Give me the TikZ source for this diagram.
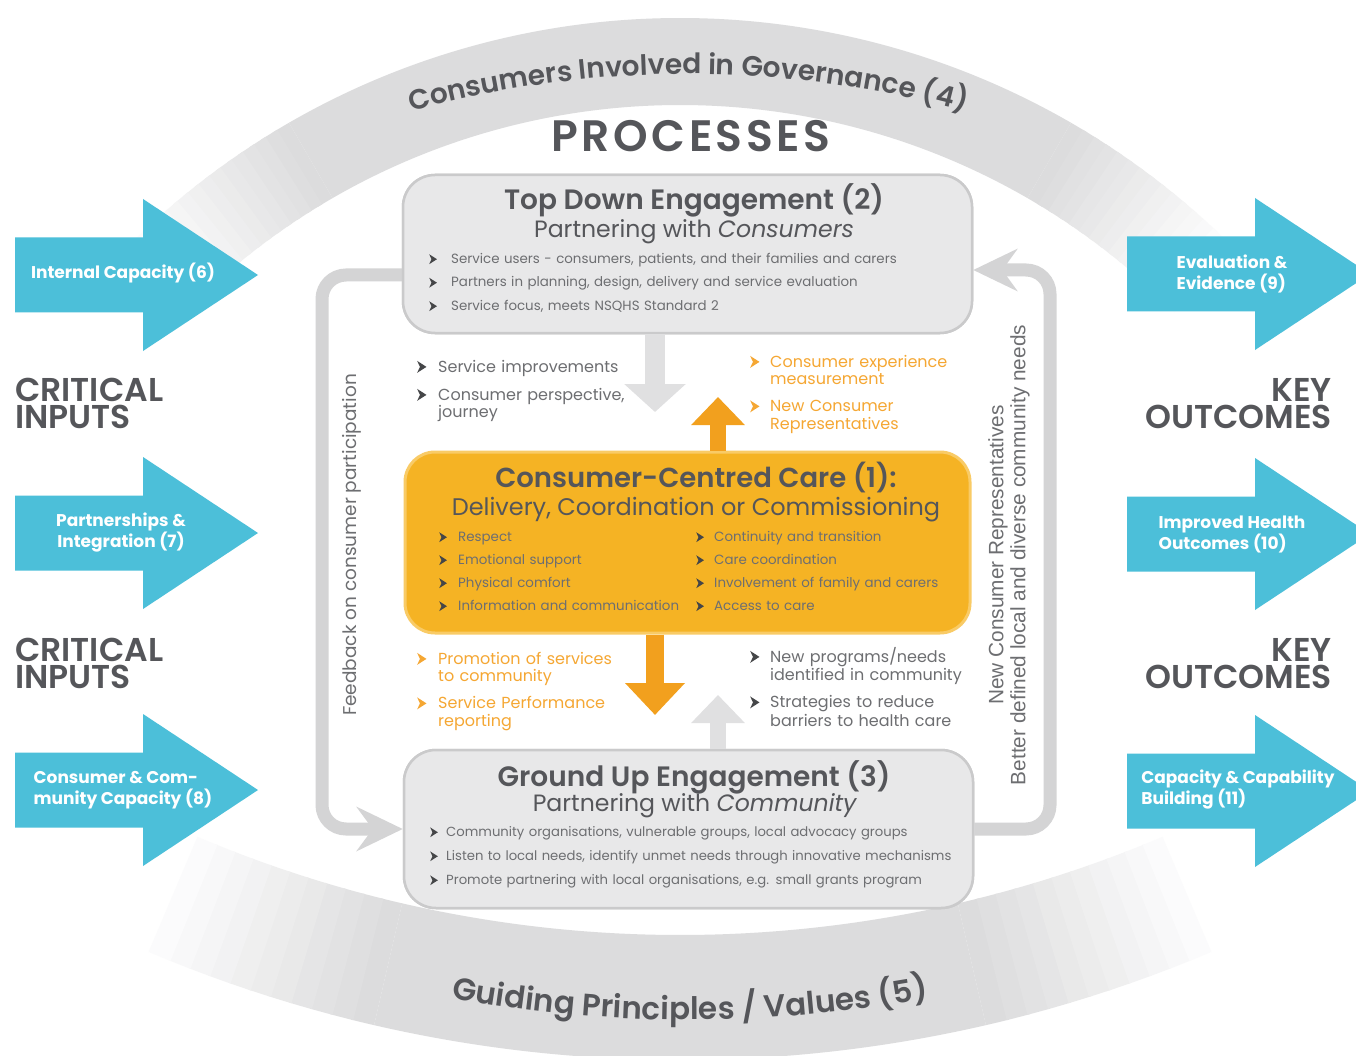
\documentclass[tikz,border=0pt]{standalone}
\usepackage{fontspec}
\setmainfont{Poppins}
\newfontfamily\semib{Poppins SemiBold}
\newfontfamily\lsans{Liberation Sans}
\usetikzlibrary{arrows.meta,decorations.text,calc}

\definecolor{tdark}{HTML}{55565A}
\definecolor{tgray}{HTML}{6D6E71}
\definecolor{tbul}{HTML}{454648}
\definecolor{torg}{HTML}{F5A733}
\definecolor{orgbox}{HTML}{F5B324}
\definecolor{orgedge}{HTML}{F9CB66}
\definecolor{orgarr}{HTML}{F2A01E}
\definecolor{boxfill}{HTML}{E8E8E9}
\definecolor{boxedge}{HTML}{CACACB}
\definecolor{loopc}{HTML}{D4D4D5}
\definecolor{cyanarr}{HTML}{4CBFD9}
\definecolor{band}{HTML}{DCDCDD}
\definecolor{garr}{HTML}{E0E0E1}

% small notched arrowhead used as list bullet
\newcommand\bu[1][tbul]{\tikz[baseline=0pt]\fill[#1] (0em,-0.05em) -- (0.58em,0.32em) -- (0em,0.69em) -- (0.17em,0.32em) -- cycle;}
\newcommand\bi[2][tbul]{\makebox[#2][l]{\bu[#1]}}
% ring sector: start angle, end angle, outer radius, inner radius, fill
\newcommand\sector[5]{\fill[#5] (#1:#3) arc[start angle=#1,end angle=#2,radius=#3] -- (#2:#4) arc[start angle=#2,end angle=#1,radius=#4] -- cycle;}

\tikzset{
  pics/cyarrow/.style={code={\fill[cyanarr] (0,37.5) -- (128,37.5) -- (128,76) -- (243,0) -- (128,-76) -- (128,-37.5) -- (0,-37.5) -- cycle;}},
  cytext/.style={text=white, font=\fontsize{17}{21}\selectfont\bfseries, inner sep=0pt},
  side/.style={font=\fontsize{33}{27.5}\selectfont\semib, text=tdark, inner sep=0pt, text width=220pt},
  gbox/.style={draw=boxedge, line width=2.5pt, fill=boxfill, rounded corners=32pt, minimum width=569pt, minimum height=158pt, inner sep=0pt},
  obox/.style={draw=orgedge, line width=3pt, fill=orgbox, rounded corners=30pt, minimum width=565pt, minimum height=181pt, inner sep=0pt},
  ttl/.style={font=\fontsize{28}{30}\selectfont\semib, text=tdark, anchor=base, inner sep=0pt},
  sub/.style={font=\fontsize{23.6}{26}\selectfont, text=tdark, anchor=base, inner sep=0pt},
  bl/.style={font=\fontsize{13.4}{23.5}\selectfont, text=tgray, anchor=base west, inner sep=0pt, align=left, text width=560pt},
  mid/.style={font=\fontsize{16}{17.5}\selectfont, anchor=base west, inner sep=0pt, align=left, text width=260pt},
  loopln/.style={draw=loopc, line width=13pt, rounded corners=24pt},
}

\begin{document}
\begin{tikzpicture}[x=1pt,y=1pt]
\useasboundingbox (0,0) rectangle (1356,-1056);
\fill[white] (0,0) rectangle (1356,-1056);

% upper band: governance
\begin{scope}[shift={(680,-800)}]
  \sector{60}{120}{782}{695}{band}
  \foreach \k in {0,...,14}{
    \pgfmathsetmacro\aa{120+\k}\pgfmathsetmacro\bb{121.4+\k}\pgfmathtruncatemacro\pp{100-\k*7}
    \sector{\aa}{\bb}{782}{695}{band!\pp!white}
    \pgfmathsetmacro\aa{60-\k}\pgfmathsetmacro\bb{58.6-\k}
    \sector{\aa}{\bb}{782}{695}{band!\pp!white}
  }
\end{scope}
% lower band: principles
\begin{scope}[shift={(680,300)}]
  \sector{257}{283}{1360}{1235}{band}
  \foreach \k in {0,...,10}{
    \pgfmathsetmacro\aa{257-0.9*\k}\pgfmathsetmacro\bb{256-0.9*\k}\pgfmathtruncatemacro\pp{100-\k*9}
    \sector{\aa}{\bb}{1360}{1235}{band!\pp!white}
    \pgfmathsetmacro\aa{283+0.9*\k}\pgfmathsetmacro\bb{284+0.9*\k}
    \sector{\aa}{\bb}{1360}{1235}{band!\pp!white}
  }
\end{scope}

\path[decorate, decoration={text along path, text align=center, text color=tdark,
  text={|\fontsize{28}{28}\selectfont\semib|Consumers Involved in Governance (4)}}]
  ([shift={(688,-1120)}]112:1046) arc[start angle=112,end angle=68,radius=1046];
\path[decorate, decoration={text along path, text align=center, text color=tdark,
  text={|\fontsize{31}{31}\selectfont\semib|Guiding Principles / Values (5)}}]
  ([shift={(690,300)}]255:1320) arc[start angle=255,end angle=285,radius=1320];

\node[font=\fontsize{44}{44}\selectfont\semib\addfontfeature{LetterSpace=8}, text=tdark, anchor=base, inner sep=0pt] (proc) at (691,-152) {PROCESSES};

% inputs and outcomes
\pic at (15,-275) {cyarrow};
\pic at (15,-533) {cyarrow};
\pic at (15,-790) {cyarrow};
\pic at (1127,-274) {cyarrow};
\pic at (1127,-534) {cyarrow};
\pic at (1127,-791) {cyarrow};
\node[cytext] (in6) at (123,-273) {Internal Capacity (6)};
\node[cytext, align=center] (in7) at (121,-533) {Partnerships \&\\Integration (7)};
\node[cytext, align=left] (in8) at (123,-790) {Consumer \& Com-\\munity Capacity (8)};
\node[cytext, align=left] (out9) at (1232,-274) {Evaluation \&\\Evidence (9)};
\node[cytext, align=left] (out10) at (1232,-534) {Improved Health\\Outcomes (10)};
\node[cytext, align=left] (out11) at (1238,-790) {Capacity \& Capability\\Building (11)};

\node[side, anchor=base west, align=left] (ci1) at (15,-401) {CRITICAL\\INPUTS};
\node[side, anchor=base west, align=left] (ci2) at (15,-661) {CRITICAL\\INPUTS};
\node[side, anchor=base east, align=right] (ko1) at (1332,-401) {KEY\\OUTCOMES};
\node[side, anchor=base east, align=right] (ko2) at (1332,-661) {KEY\\OUTCOMES};

% feedback loops
\coordinate (lt) at (322,-275);
\coordinate (lb) at (322,-829);
\coordinate (rt) at (1050,-270);
\coordinate (rb) at (1050,-829);
\node[gbox] (top) at (687.5,-254) {};
\node[gbox] (ground) at (688.5,-829) {};
\node[obox] (care) at (687.5,-542.5) {};
\draw[loopln, -{Stealth[length=46pt,width=44pt,inset=16pt]}] ($(top.west)+(0,-21)$) -- (lt) -- (lb) -- (ground.west);
\draw[loopln, -{Stealth[length=44pt,width=42pt,inset=15pt]}] (ground.east) -- (rb) -- (rt) -- ($(top.east)+(0,-16)$);
\node[gbox] at (top) {};
\node[gbox] at (ground) {};

\node[rotate=90, font=\fontsize{18.5}{18.5}\selectfont, text=tgray, inner sep=0pt] (fb) at (352,-545) {Feedback on consumer participation};
\node[rotate=90, font=\lsans\fontsize{20.8}{22}\selectfont, text=tgray, align=center, inner sep=0pt] (ncr) at (1009,-555) {New Consumer Representatives\\Better defined local and diverse community needs};

% block arrows between the boxes
\coordinate (gdn) at (655,-412);
\coordinate (oup) at (718,-397);
\coordinate (odn) at (655,-715);
\coordinate (gup) at (718,-695);
\draw[draw=garr, line width=20pt, -{Triangle[length=28pt,width=60pt]}] (top.south -| gdn) -- (gdn);
\draw[draw=orgarr, line width=16pt, -{Triangle[length=28pt,width=52pt]}] (care.north -| oup) -- (oup);
\draw[draw=orgarr, line width=18pt, -{Triangle[length=32pt,width=58pt]}] (care.south -| odn) -- (odn);
\draw[draw=garr, line width=16pt, -{Triangle[length=28pt,width=52pt]}] (ground.north -| gup) -- (gup);

% top box
\node[ttl] (t2) at (694,-210) {Top Down Engagement (2)};
\node[sub] (s2) at (694,-238) {Partnering with \textit{Consumers}};
\node[bl] (b2) at (429,-263.5) {\bi{22pt}Service users - consumers, patients, and their families and carers\\
  \bi{22pt}Partners in planning, design, delivery and service evaluation\\
  \bi{22pt}Service focus, meets NSQHS Standard 2};

% centre box
\node[ttl, font=\fontsize{27.5}{30}\selectfont\semib] (t1) at (696,-487) {Consumer-Centred Care (1):};
\node[sub, font=\fontsize{24}{26}\selectfont] (s1) at (696,-515) {Delivery, Coordination or Commissioning};
\node[bl, font=\fontsize{13.4}{23}\selectfont, text width=250pt] (c1a) at (439,-541.5) {\bi{19pt}Respect\\\bi{19pt}Emotional support\\\bi{19pt}Physical comfort\\\bi{19pt}Information and communication};
\node[bl, font=\fontsize{13.4}{23}\selectfont, text width=270pt] (c1b) at (696,-541.5) {\bi{18pt}Continuity and transition\\\bi{18pt}Care coordination\\\bi{18pt}Involvement of family and carers\\\bi{18pt}Access to care};

% bottom box
\node[ttl] (t3) at (694,-786) {Ground Up Engagement (3)};
\node[sub] (s3) at (695,-811) {Partnering with \textit{Community}};
\node[bl, font=\fontsize{13.2}{24}\selectfont] (b3) at (430,-836.5) {\bi{16pt}Community organisations, vulnerable groups, local advocacy groups\\
  \bi{16pt}Listen to local needs, identify unmet needs through innovative mechanisms\\
  \bi{16pt}Promote partnering with local organisations, e.g. small grants program};

% flows between the boxes
\node[mid, text=tgray] (m1) at (417,-372) {\bi{21pt}Service improvements\\[10.5pt]\bi{21pt}Consumer perspective,\\\hspace*{21pt}journey};
\node[mid, text=torg] (m2) at (750,-367) {\bi[torg]{20pt}Consumer experience\\\hspace*{20pt}measurement\\[9.5pt]\bi[torg]{20pt}New Consumer\\\hspace*{20pt}Representatives};
\node[mid, text=torg] (m3) at (417,-664) {\bi[torg]{21pt}Promotion of services\\\hspace*{21pt}to community\\[9.5pt]\bi[torg]{21pt}Service Performance\\\hspace*{21pt}reporting};
\node[mid, text=tgray, font=\fontsize{16}{18.5}\selectfont] (m4) at (750,-662) {\bi{20pt}New programs/needs\\\hspace*{20pt}identified in community\\[8.5pt]\bi{20pt}Strategies to reduce\\\hspace*{20pt}barriers to health care};
\end{tikzpicture}
\end{document}
